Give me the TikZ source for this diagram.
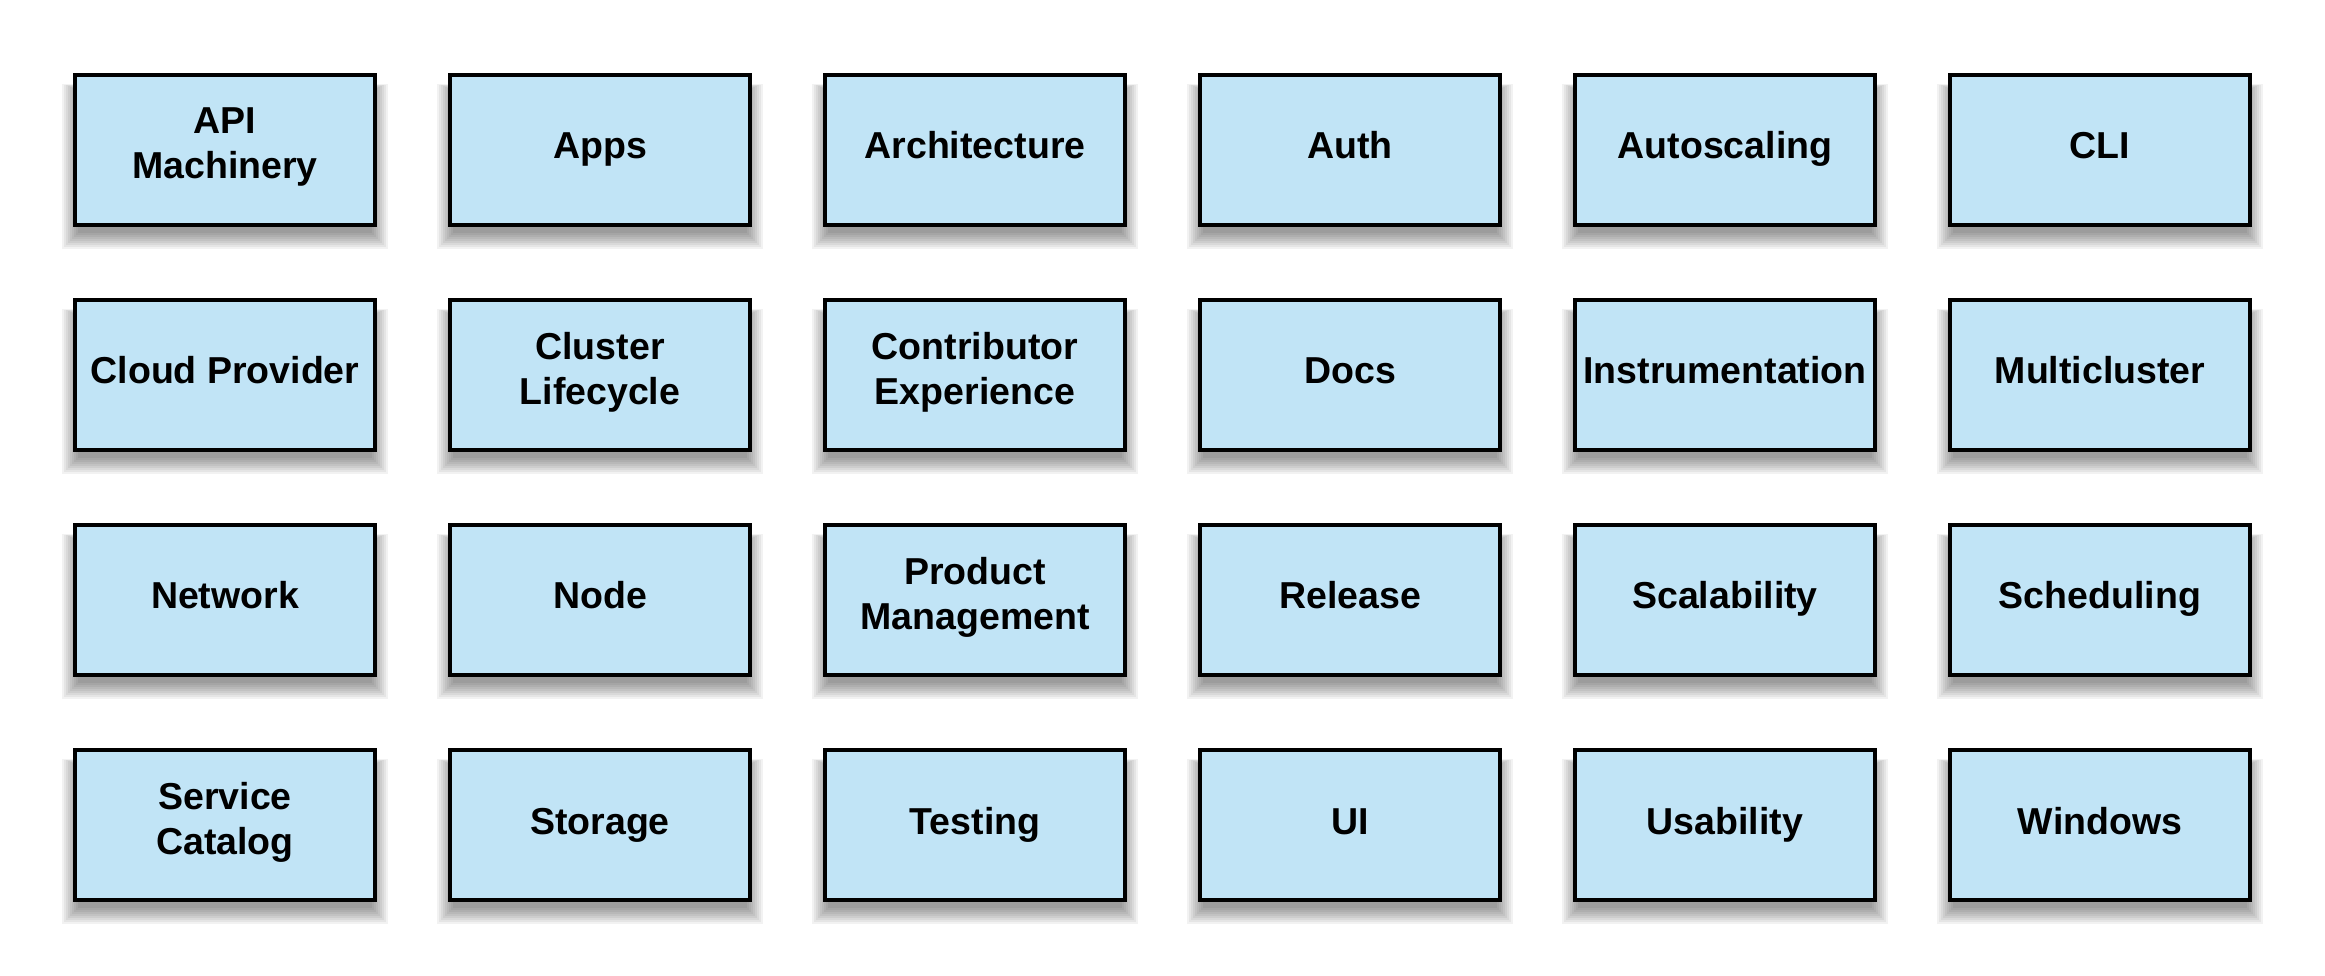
\documentclass[tikz,border=0pt]{standalone}
\usepackage{fontspec}
\setmainfont{Liberation Sans}
\definecolor{boxfill}{RGB}{193,228,246}
\tikzset{
  sigbox/.style={draw=black, line width=4pt, fill=boxfill, rectangle,
    minimum width=300pt, minimum height=150pt, inner sep=0pt, align=center,
    font=\fontsize{37.5}{45}\selectfont\bfseries, text=black,
    execute at begin node=\strut, execute at end node=\strut}
}
\begin{document}
\begin{tikzpicture}[x=1pt,y=1pt]
\useasboundingbox[fill=white] (0,0) rectangle (2325,975);
\foreach \lab [count=\k from 0] in {
  {API\\Machinery}, Apps, Architecture, Auth, Autoscaling, CLI,
  Cloud Provider, {Cluster\\Lifecycle}, {Contributor\\Experience}, Docs, Instrumentation, Multicluster,
  Network, Node, {Product\\Management}, Release, Scalability, Scheduling,
  {Service\\Catalog}, Storage, Testing, UI, Usability, Windows}{
  \pgfmathtruncatemacro{\col}{mod(\k,6)}
  \pgfmathtruncatemacro{\row}{int(\k/6)}
  \pgfmathsetmacro{\cx}{225+375*\col}
  \pgfmathsetmacro{\cy}{975-150-225*\row}
  \foreach \r in {2,4,...,18}{
    \fill[black, opacity=0.05] (\cx-150-\r+5,\cy-75-\r-6) rectangle (\cx+150+\r-5,\cy+75+0.4*\r-16);
  }
  \node[sigbox] (n\k) at (\cx,\cy) {\lab};
}
\end{tikzpicture}
\end{document}
